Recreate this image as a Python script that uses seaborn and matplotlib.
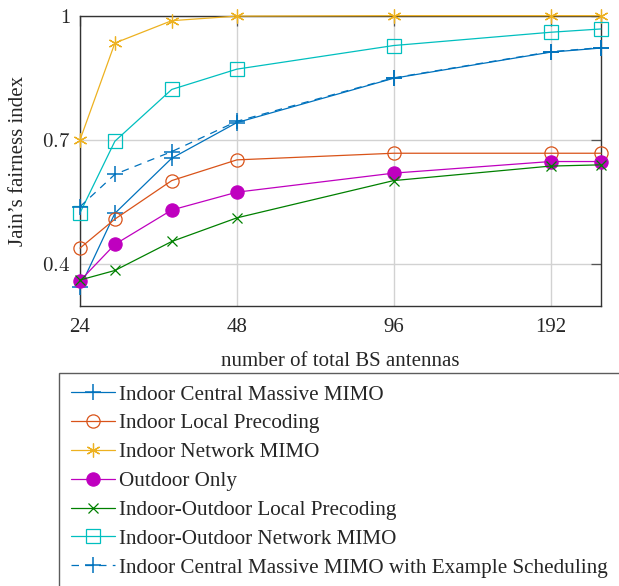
import matplotlib
matplotlib.use("Agg")
import matplotlib.pyplot as plt
import seaborn as sns
import numpy as np
import pandas as pd

# ---- data ----
antennas = [24, 28, 36, 48, 96, 192, 240]
indoor_central = [0.344, 0.523, 0.656, 0.742, 0.849, 0.912, 0.922]
indoor_local = [0.439, 0.509, 0.602, 0.652, 0.668, 0.668, 0.668]
indoor_network = [0.700, 0.934, 0.988, 0.999, 1.000, 1.000, 1.000]
outdoor_only = [0.360, 0.448, 0.531, 0.574, 0.620, 0.648, 0.648]
io_local = [0.362, 0.385, 0.455, 0.512, 0.602, 0.637, 0.640]
io_network = [0.524, 0.697, 0.822, 0.871, 0.928, 0.960, 0.968]
central_sched = [0.539, 0.617, 0.672, 0.745, 0.850, 0.913, 0.923]

labels = ["Indoor Central Massive MIMO",
          "Indoor Local Precoding",
          "Indoor Network MIMO",
          "Outdoor Only",
          "Indoor-Outdoor Local Precoding",
          "Indoor-Outdoor Network MIMO",
          "Indoor Central Massive MIMO with Example Scheduling"]
xticks = [24, 48, 96, 192]
yticks = [0.4, 0.7, 1.0]
ytick_labels = [r"$0.4$", r"$0.7$", r"$1$"]

sns.set_style("white")
plt.rcParams["font.family"] = ["Liberation Serif", "DejaVu Serif"]
plt.rcParams["mathtext.fontset"] = "cm"

fig = plt.figure(figsize=(6.19, 5.86), dpi=100)
ax = fig.add_axes([80 / 619, 1 - 305.7 / 586, (601 - 80) / 619, (305.7 - 15.7) / 586])

series = [indoor_central, indoor_local, indoor_network, outdoor_only,
          io_local, io_network, central_sched]
styles = [
    dict(color="#0072BD", marker="+", ms=11, mew=1.1, ls="-"),
    dict(color="#D95319", marker="o", ms=9.5, mfc="none", mew=0.9, ls="-"),
    dict(color="#EDB120", marker=(6, 2, 0), ms=10, mew=0.9, ls="-"),
    dict(color="#BF00BF", marker="o", ms=9.5, mfc="#BF00BF", mew=0.9, ls="-"),
    dict(color="#008000", marker="x", ms=6.5, mew=0.9, ls="-"),
    dict(color="#00BFBF", marker="s", ms=9.5, mfc="none", mew=0.9, ls="-"),
    dict(color="#0072BD", marker="+", ms=11, mew=1.1, ls=(0, (6, 5))),
]

for vals, lab, st in zip(series, labels, styles):
    df = pd.DataFrame({"x": antennas, "y": vals})
    kw = dict(st)
    color = kw.pop("color")
    ls = kw.pop("ls")
    sns.lineplot(data=df, x="x", y="y", ax=ax, color=color, linestyle=ls,
                 linewidth=0.9, label=lab, markeredgecolor=color,
                 markerfacecolor=kw.pop("mfc", color), clip_on=False,
                 marker=kw.pop("marker"), markersize=kw.pop("ms"),
                 markeredgewidth=kw.pop("mew"), legend=False, zorder=3)

ax.set_xscale("log", base=2)
ax.set_xlim(24, 240)
ax.set_ylim(0.3, 1.0)
ax.set_xticks(xticks)
ax.set_xticklabels([str(t) for t in xticks])
ax.xaxis.set_minor_locator(matplotlib.ticker.NullLocator())
ax.set_yticks(yticks)
ax.set_yticklabels(ytick_labels)
ax.grid(True, color="#d2d2d2", linewidth=1.0)
ax.tick_params(direction="in", length=7, width=0.9, color="#555555",
               top=True, right=True, labelsize=15, pad=7)
ax.tick_params(axis="x", pad=9)
for sp in ax.spines.values():
    sp.set_color("#333333")
    sp.set_linewidth(1.0)
ax.set_xlabel("number of total BS antennas", fontsize=15, labelpad=11)
ax.set_ylabel("Jain\u2019s fairness index", fontsize=15, labelpad=10)

handles, labs = ax.get_legend_handles_labels()
leg = fig.legend(handles, labs, loc="upper left",
                 bbox_to_anchor=(59 / 619, 1 - 373 / 586),
                 bbox_transform=fig.transFigure, fontsize=15.2,
                 frameon=True, fancybox=False, edgecolor="#333333",
                 handlelength=2.1, handletextpad=0.2, labelspacing=0.43,
                 borderpad=0.56, borderaxespad=0)
leg.get_frame().set_linewidth(1.0)

fig.savefig("out.png", dpi=100)
